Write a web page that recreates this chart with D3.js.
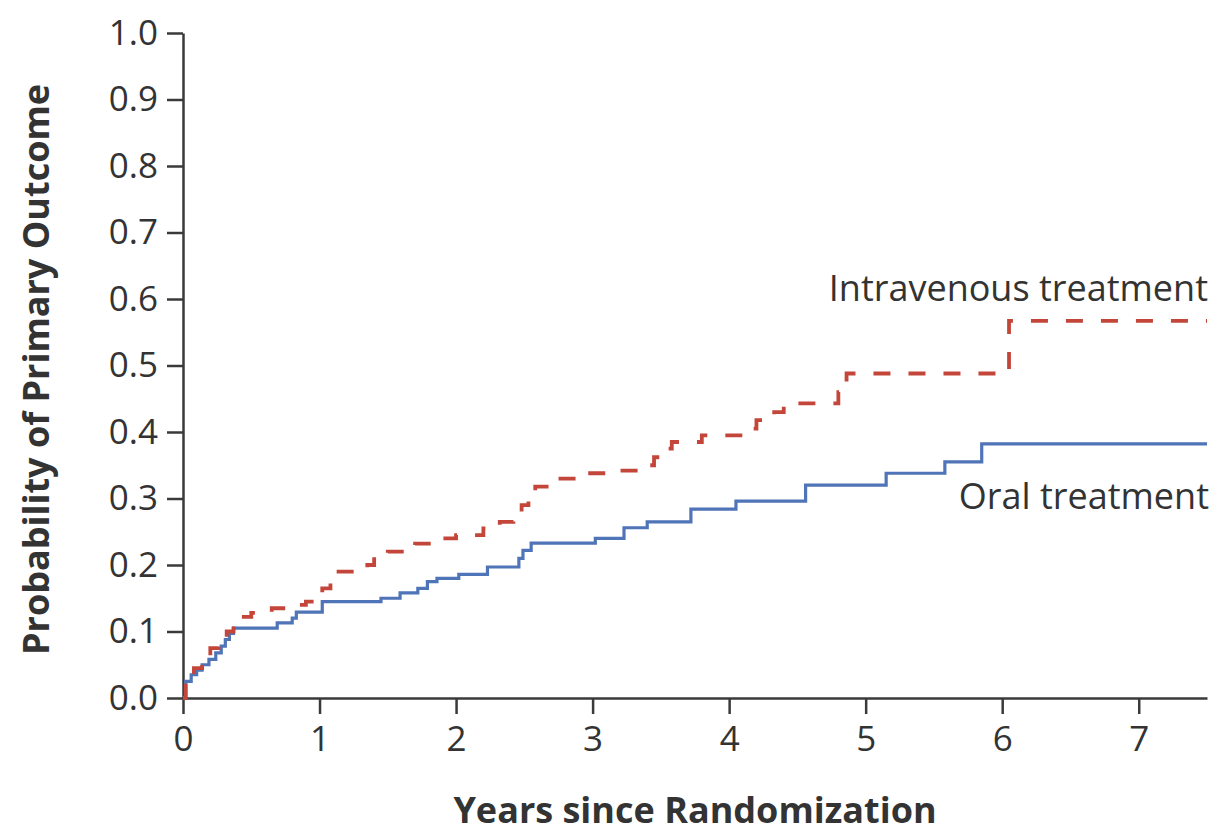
<!DOCTYPE html>
<html>
<head>
<meta charset="utf-8">
<script src="https://cdn.jsdelivr.net/npm/d3@7"></script>
<style>
  html, body { margin: 0; padding: 0; background: #ffffff; }
  svg { display: block; }
  text { font-family: "Open Sans", "Noto Sans", sans-serif; fill: #333333; }
</style>
</head>
<body>
<svg id="chart" width="1219" height="834"></svg>
<script>
// Kaplan-Meier style cumulative incidence, read as step points (years, probability)
const oralYears = [0, 0.02, 0.06, 0.10, 0.14, 0.19, 0.24, 0.28, 0.31, 0.34, 0.37, 0.69, 0.80, 0.83, 1.02, 1.45, 1.59, 1.72, 1.79, 1.86, 2.02, 2.23, 2.46, 2.49, 2.55, 3.02, 3.23, 3.40, 3.72, 4.05, 4.56, 5.15, 5.58, 5.85, 7.5];
const oralProb  = [0, 0.025, 0.035, 0.042, 0.050, 0.058, 0.068, 0.078, 0.088, 0.097, 0.105, 0.113, 0.120, 0.129, 0.145, 0.150, 0.158, 0.165, 0.175, 0.180, 0.186, 0.197, 0.210, 0.222, 0.233, 0.240, 0.256, 0.265, 0.284, 0.296, 0.320, 0.338, 0.355, 0.382, 0.382];

const ivYears = [0, 0.02, 0.08, 0.14, 0.20, 0.26, 0.32, 0.37, 0.42, 0.50, 0.65, 0.78, 0.90, 0.97, 1.02, 1.08, 1.12, 1.35, 1.40, 1.50, 1.70, 1.85, 2.00, 2.20, 2.32, 2.42, 2.48, 2.53, 2.58, 2.75, 2.95, 3.10, 3.35, 3.45, 3.52, 3.58, 3.80, 4.10, 4.20, 4.33, 4.40, 4.80, 4.86, 6.05, 7.5];
const ivProb  = [0, 0.030, 0.045, 0.058, 0.075, 0.088, 0.100, 0.112, 0.122, 0.128, 0.135, 0.140, 0.145, 0.155, 0.165, 0.178, 0.190, 0.200, 0.212, 0.220, 0.232, 0.240, 0.245, 0.255, 0.265, 0.275, 0.290, 0.305, 0.318, 0.330, 0.338, 0.342, 0.350, 0.362, 0.375, 0.385, 0.395, 0.405, 0.418, 0.430, 0.443, 0.460, 0.488, 0.567, 0.567];

const xTicks = [0, 1, 2, 3, 4, 5, 6, 7];
const yTicks = [0, 0.1, 0.2, 0.3, 0.4, 0.5, 0.6, 0.7, 0.8, 0.9, 1.0];

const seriesNames = ["Oral treatment", "Intravenous treatment"];
const xTitle = "Years since Randomization";
const yTitle = "Probability of Primary Outcome";

const svg = d3.select("#chart");
const margin = { left: 183, top: 33, right: 12, bottom: 136 };
const W = 1219, H = 834;

const x = d3.scaleLinear().domain([0, 7.5]).range([margin.left, W - margin.right]);
const y = d3.scaleLinear().domain([0, 1]).range([H - margin.bottom, margin.top]);

const axisColor = "#3a3a3a";

// Y axis
const yAxis = svg.append("g")
  .attr("transform", `translate(${margin.left},0)`)
  .call(d3.axisLeft(y).tickValues(yTicks).tickFormat(d3.format(".1f")).tickSize(16).tickSizeOuter(0).tickPadding(9));

// X axis
const xAxis = svg.append("g")
  .attr("transform", `translate(0,${y(0)})`)
  .call(d3.axisBottom(x).tickValues(xTicks).tickFormat(d3.format("d")).tickSize(16).tickSizeOuter(0).tickPadding(12));

[yAxis, xAxis].forEach(g => {
  g.select(".domain").attr("stroke", axisColor).attr("stroke-width", 2.5);
  g.selectAll(".tick line").attr("stroke", axisColor).attr("stroke-width", 2.5);
  g.selectAll(".tick text")
    .style("font-family", '"Open Sans", "Noto Sans", sans-serif')
    .style("font-size", "35px")
    .attr("fill", "#333");
});

// Axis titles, centred on the plot area
svg.append("text")
  .attr("x", (x.range()[0] + x.range()[1]) / 2).attr("y", 823)
  .attr("text-anchor", "middle")
  .style("font-size", "36px").style("font-weight", "bold")
  .text(xTitle);

svg.append("text")
  .attr("transform", `translate(49,${(y(0) + y(1)) / 2 + 4}) rotate(-90)`)
  .attr("text-anchor", "middle")
  .style("font-size", "36px").style("font-weight", "bold")
  .text(yTitle);

// Step curves
const line = d3.line()
  .x(d => x(d[0]))
  .y(d => y(d[1]))
  .curve(d3.curveStepAfter);

const oral = oralYears.map((t, i) => [t, oralProb[i]]);
const iv = ivYears.map((t, i) => [t, ivProb[i]]);

svg.append("path")
  .datum(oral)
  .attr("d", line)
  .attr("fill", "none")
  .attr("stroke", "#4f74b8")
  .attr("stroke-width", 3.2);

svg.append("path")
  .datum(iv)
  .attr("d", line)
  .attr("fill", "none")
  .attr("stroke", "#c4463a")
  .attr("stroke-width", 3.8)
  .attr("stroke-dasharray", "17,18");

// Series labels
svg.append("text")
  .attr("x", 1208).attr("y", 301)
  .attr("text-anchor", "end")
  .style("font-size", "36px")
  .text(seriesNames[1]);

svg.append("text")
  .attr("x", 1209).attr("y", 509)
  .attr("text-anchor", "end")
  .style("font-size", "36px")
  .text(seriesNames[0]);
</script>
</body>
</html>
